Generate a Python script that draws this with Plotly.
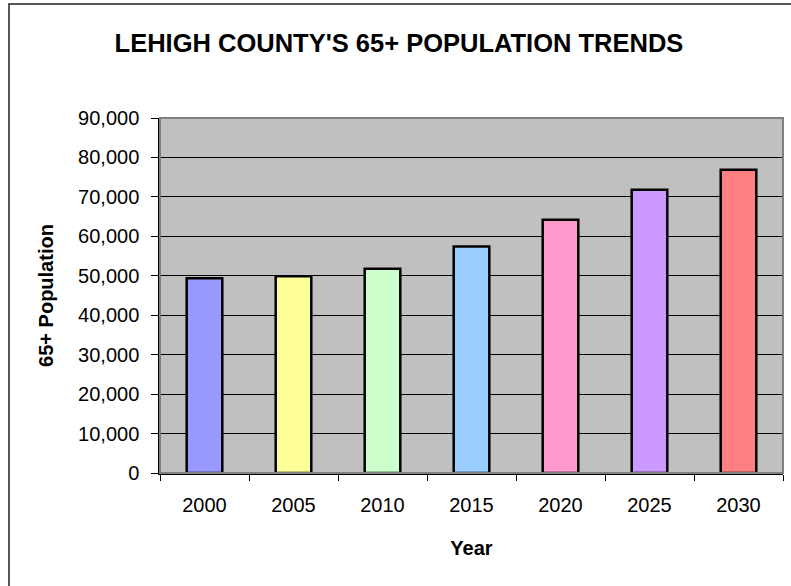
import plotly.graph_objects as go

years = ["2000", "2005", "2010", "2015", "2020", "2025", "2030"]
population = [49400, 49900, 51800, 57400, 64200, 71800, 76900]
bar_colors = ["#9999FF", "#FFFF99", "#CCFFCC", "#99CCFF", "#FF99CC", "#CC99FF", "#FF8080"]
y_ticks = [0, 10000, 20000, 30000, 40000, 50000, 60000, 70000, 80000, 90000]

L, R, T, B = 160, 8, 118, 113
W, H = 791, 586
pw, ph = W - L - R, H - T - B

def px(x):
    return (x - L) / pw

def py(y):
    return (H - B - y) / ph

fig = go.Figure(go.Bar(
    x=years, y=population,
    marker=dict(color=bar_colors, line=dict(color="black", width=2.5)),
    width=0.4,
))

fig.update_layout(
    width=W, height=H,
    margin=dict(l=L, r=R, t=T, b=B, autoexpand=False),
    paper_bgcolor="white",
    plot_bgcolor="#C0C0C0",
    showlegend=False,
    font=dict(family="Arial, Liberation Sans, sans-serif", color="black", size=20),
    title=dict(text="<b>LEHIGH COUNTY'S 65+ POPULATION TRENDS</b>",
               x=399 / W, xanchor="center", y=1 - 43 / H, yanchor="middle",
               font=dict(size=25.5)),
    shapes=[
        dict(type="rect", xref="paper", yref="paper",
             x0=px(9), x1=px(800), y0=py(4), y1=py(600),
             line=dict(color="#202020", width=1.5), fillcolor="rgba(0,0,0,0)", layer="below"),
        dict(type="rect", xref="paper", yref="paper",
             x0=0, x1=1, y0=0, y1=1,
             line=dict(color="#808080", width=2), fillcolor="rgba(0,0,0,0)", layer="above"),
    ],
)

fig.update_xaxes(
    type="category",
    showline=True, linecolor="black", linewidth=1.5,
    ticks="outside", tickson="boundaries", ticklen=6, tickcolor="black", tickwidth=1,
    ticklabelstandoff=13,
    showgrid=False,
    tickfont=dict(size=20),
    title=dict(text="<b>Year</b>", font=dict(size=20), standoff=26),
)
fig.update_yaxes(
    range=[0, 90000], tickvals=y_ticks, tickformat=",d",
    showline=True, linecolor="black", linewidth=1.5,
    ticks="outside", ticklen=7, tickcolor="black", tickwidth=1,
    ticklabelstandoff=8,
    showgrid=True, gridcolor="black", gridwidth=1,
    zeroline=False,
    tickfont=dict(size=20),
    title=dict(text="<b>65+ Population</b>", font=dict(size=20), standoff=19),
)

fig.write_html("out.html", config={"displayModeBar": False},
               post_script="document.body.style.margin='0';")
